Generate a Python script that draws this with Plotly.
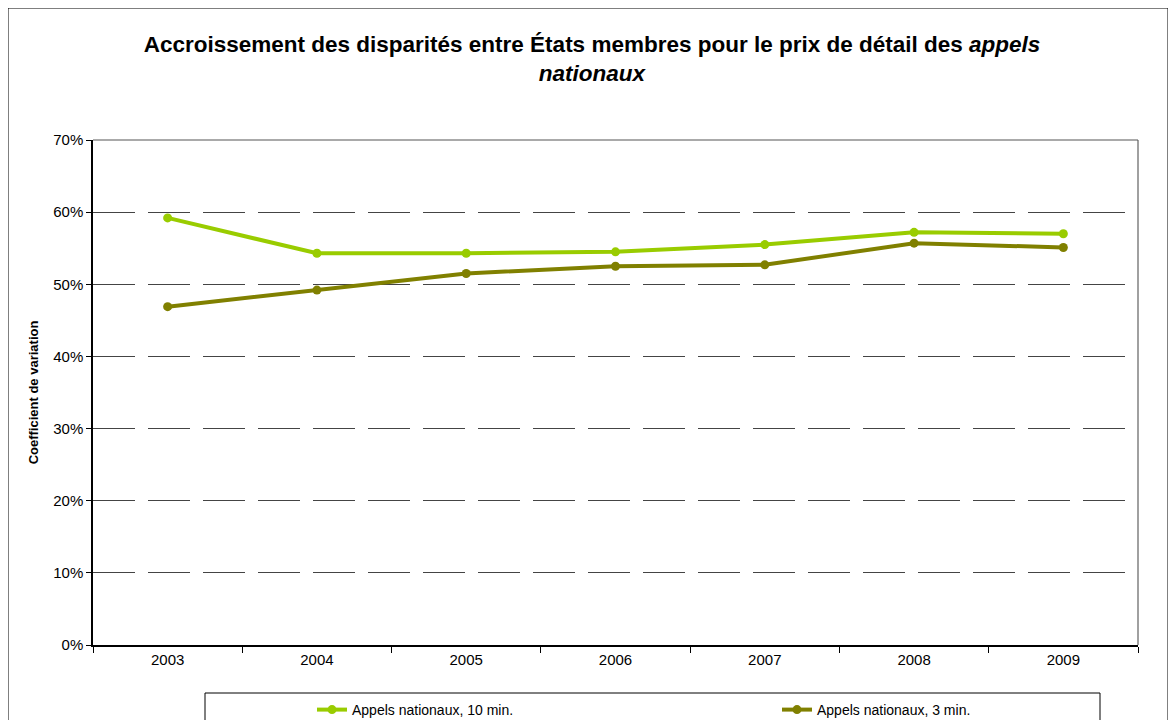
import plotly.graph_objects as go

years = ["2003", "2004", "2005", "2006", "2007", "2008", "2009"]
appels_10min = [0.592, 0.543, 0.543, 0.545, 0.555, 0.572, 0.570]
appels_3min = [0.469, 0.492, 0.515, 0.525, 0.527, 0.557, 0.551]
series_names = ["Appels nationaux, 10 min.", "Appels nationaux, 3 min."]
y_ticks = [0, 0.1, 0.2, 0.3, 0.4, 0.5, 0.6, 0.7]

OFF = 8  # page body margin
W, H = 1176 - OFF, 720 - OFF
L, R, T = 93 - OFF, 38, 140 - OFF
B = H - (645 - OFF)
pw, ph = W - L - R, H - T - B

def px_x(x):  # page x -> paper
    return (x - OFF - L) / pw

def px_y(y):  # page y -> paper
    return (H - B - (y - OFF)) / ph

fig = go.Figure()
fig.add_trace(go.Scatter(x=years, y=appels_10min, name=series_names[0], mode="lines+markers",
                         line=dict(color="#99CC00", width=4), marker=dict(size=9, color="#99CC00")))
fig.add_trace(go.Scatter(x=years, y=appels_3min, name=series_names[1], mode="lines+markers",
                         line=dict(color="#808000", width=4), marker=dict(size=9, color="#808000")))

fig.update_layout(
    width=W, height=H,
    margin=dict(l=L, r=R, t=T, b=B, autoexpand=False),
    paper_bgcolor="white", plot_bgcolor="white",
    font=dict(family="Liberation Sans, Arial, sans-serif", color="black", size=15),
    title=dict(text="<b>Accroissement des disparités entre États membres pour le prix de détail des <i>appels</i><br><i>nationaux</i></b>",
               x=0.5, xanchor="center", y=1 - (52 - OFF) / H, yanchor="middle",
               font=dict(size=22.5, color="black")),
    showlegend=True,
    legend=dict(orientation="h", x=px_x(312), xanchor="left", y=px_y(694), yanchor="top",
                entrywidth=420, entrywidthmode="pixels", itemwidth=30,
                font=dict(size=14, color="black"), bgcolor="rgba(0,0,0,0)",
                traceorder="normal"),
    xaxis=dict(type="category", range=[-0.5, 6.5], tickson="boundaries", ticks="outside",
               ticklen=6, tickcolor="black", showline=True, linecolor="black", linewidth=1.5,
               mirror=False, showgrid=False, tickfont=dict(size=15)),
    yaxis=dict(range=[0, 0.7], tickvals=y_ticks, tickformat=".0%", ticks="outside", ticklen=5,
               tickcolor="black", showline=True, linecolor="black", linewidth=1.5,
               showgrid=True, gridcolor="#444444", gridwidth=1, griddash="42px,13px",
               zeroline=False, tickfont=dict(size=15),
               title=dict(text="<b>Coefficient de variation</b>", font=dict(size=13), standoff=12)),
    shapes=[
        dict(type="line", xref="paper", yref="paper", x0=1, x1=1, y0=0, y1=1,
             line=dict(color="#808080", width=1.5)),
        dict(type="line", xref="paper", yref="paper", x0=0, x1=1, y0=1, y1=1,
             line=dict(color="#555555", width=1)),
        dict(type="rect", xref="paper", yref="paper", x0=px_x(8), x1=px_x(1168),
             y0=px_y(740), y1=px_y(8), line=dict(color="black", width=1)),
        dict(type="rect", xref="paper", yref="paper", x0=px_x(205), x1=px_x(1100),
             y0=px_y(740), y1=px_y(693), line=dict(color="black", width=1)),
    ],
)

fig.write_html("out.html")
